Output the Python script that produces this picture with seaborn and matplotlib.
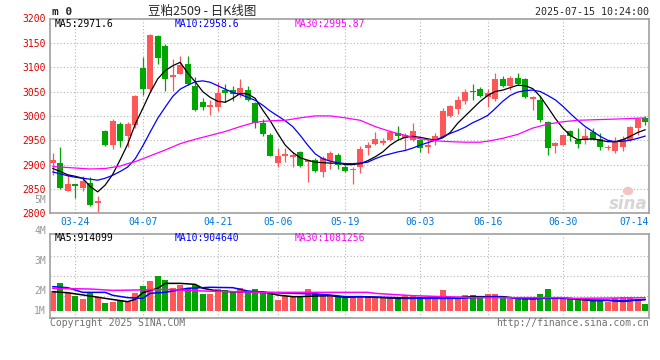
import matplotlib
matplotlib.use("Agg")
import matplotlib.pyplot as plt
from matplotlib.patches import Ellipse
import seaborn as sns
import numpy as np
import pandas as pd

# daily candles of 豆粕2509 (80 trading days)
opens = [2904, 2904, 2846, 2860, 2852, 2863, 2822, 2970, 2940, 2984,
         2959, 2981, 3099, 3056, 3164, 3143, 3080, 3087, 3106, 3061,
         3028, 3019, 3019, 3054, 3053, 3043, 3054, 3026, 2985, 2961,
         2903, 2918, 2915, 2926, 2905, 2909, 2884, 2908, 2920, 2896,
         2888, 2895, 2935, 2942, 2945, 2950, 2965, 2955, 2951, 2950,
         2936, 2950, 2957, 2999, 3014, 3030, 3051, 3055, 3038, 3034,
         3075, 3061, 3078, 3075, 3034, 3032, 2988, 2938, 2941, 2968,
         2950, 2950, 2966, 2953, 2934, 2928, 2936, 2950, 2976, 2996]
highs = [2923, 2936, 2880, 2861, 2877, 2875, 2836, 2971, 2994, 2987,
         2988, 3042, 3121, 3169, 3166, 3147, 3116, 3123, 3124, 3080,
         3036, 3032, 3070, 3066, 3061, 3075, 3061, 3029, 2993, 2964,
         2934, 2934, 2925, 2927, 2912, 2913, 2918, 2927, 2924, 2899,
         2896, 2938, 2947, 2967, 2955, 2972, 2979, 2965, 2986, 2953,
         2953, 2965, 3017, 3022, 3040, 3056, 3066, 3060, 3055, 3088,
         3081, 3081, 3088, 3078, 3041, 3040, 2990, 2947, 2962, 2971,
         2976, 2976, 2976, 2964, 2940, 2957, 2958, 2980, 2995, 2999]
lows = [2878, 2850, 2845, 2832, 2846, 2814, 2803, 2939, 2933, 2936,
        2936, 2976, 3042, 3049, 3107, 3051, 3051, 3086, 3063, 3011,
        3012, 3002, 3010, 3029, 3031, 3039, 3031, 2975, 2959, 2917,
        2896, 2905, 2896, 2896, 2864, 2884, 2875, 2890, 2890, 2884,
        2861, 2883, 2919, 2940, 2940, 2949, 2950, 2929, 2949, 2926,
        2924, 2940, 2956, 2998, 3003, 3025, 3032, 3038, 3018, 3031,
        3060, 3053, 3063, 3036, 3012, 2988, 2919, 2924, 2940, 2948,
        2934, 2943, 2950, 2929, 2930, 2924, 2928, 2948, 2960, 2981]
closes = [2909, 2852, 2860, 2857, 2867, 2817, 2825, 2940, 2990, 2949,
          2983, 3040, 3056, 3166, 3118, 3075, 3084, 3104, 3065, 3012,
          3019, 3022, 3046, 3047, 3045, 3058, 3032, 2985, 2963, 2918,
          2917, 2921, 2920, 2898, 2909, 2886, 2913, 2924, 2900, 2886,
          2890, 2933, 2940, 2952, 2949, 2967, 2958, 2960, 2968, 2934,
          2941, 2958, 3010, 3020, 3032, 3049, 3050, 3040, 3047, 3075,
          3061, 3078, 3065, 3038, 3039, 2991, 2934, 2945, 2960, 2958,
          2943, 2958, 2951, 2936, 2936, 2947, 2953, 2977, 2993, 2988]
# volume in millions of lots
volumes = [1.63, 2.28, 1.46, 1.22, 0.95, 1.54, 1.14, 0.65, 0.73, 0.87,
           0.73, 1.46, 2.01, 2.44, 2.85, 2.49, 1.87, 2.11, 1.82, 2.09,
           1.36, 1.36, 1.76, 1.68, 1.63, 1.87, 1.60, 1.76, 1.41, 1.49,
           0.89, 1.19, 1.19, 1.19, 1.76, 1.41, 1.22, 1.22, 1.14, 1.00,
           1.14, 1.22, 1.22, 1.14, 1.14, 1.14, 0.95, 1.27, 1.27, 1.14,
           1.00, 1.00, 1.68, 1.14, 1.14, 1.27, 1.27, 1.14, 1.36, 1.36,
           1.19, 0.95, 0.95, 1.00, 1.00, 1.36, 1.76, 1.06, 0.95, 1.00,
           1.00, 0.95, 0.81, 0.81, 0.73, 1.00, 1.14, 1.08, 0.95, 0.54]

# moving averages as drawn on the chart
ma5 = [2892, 2886, 2879, 2876, 2872, 2855, 2844, 2858, 2880, 2910,
       2942, 2983, 3015, 3048, 3076, 3093, 3103, 3110, 3088, 3070,
       3050, 3038, 3030, 3028, 3036, 3046, 3045, 3036, 3012, 2990,
       2964, 2940, 2925, 2914, 2909, 2905, 2904, 2903, 2903, 2900,
       2900, 2902, 2908, 2916, 2926, 2940, 2950, 2956, 2958, 2956,
       2953, 2950, 2955, 2966, 2985, 3000, 3015, 3030, 3042, 3050,
       3053, 3058, 3063, 3062, 3056, 3040, 3018, 2995, 2975, 2960,
       2951, 2952, 2953, 2950, 2947, 2947, 2951, 2958, 2966, 2971.6]
ma10 = [2885, 2881, 2877, 2874, 2872, 2870, 2868, 2872, 2878, 2886,
        2895, 2912, 2938, 2967, 2995, 3018, 3040, 3055, 3063, 3070,
        3072, 3069, 3062, 3055, 3048, 3044, 3038, 3032, 3022, 3010,
        3000, 2990, 2978, 2960, 2940, 2922, 2912, 2907, 2904, 2902,
        2902, 2903, 2905, 2912, 2918, 2922, 2926, 2929, 2934, 2940,
        2945, 2950, 2957, 2964, 2970, 2977, 2986, 2993, 3001, 3015,
        3030, 3042, 3049, 3052, 3053, 3050, 3042, 3033, 3020, 3005,
        2991, 2978, 2968, 2958, 2950, 2947, 2948, 2950, 2954, 2958.6]
ma30_day = [0, 3, 5, 7, 9, 10, 11, 12, 13, 15, 17, 19, 21, 23, 25, 27, 29,
            31, 33, 35, 37, 39, 41, 43, 45, 47, 49, 51, 53, 55, 57, 58, 60,
            62, 64, 66, 68, 70, 72, 74, 76, 79]
ma30 = [2896, 2893, 2891, 2892, 2897, 2902, 2906, 2912, 2918, 2930, 2943,
        2952, 2960, 2968, 2978, 2987, 2990, 2991, 2996, 3000, 3000, 2996,
        2991, 2978, 2968, 2960, 2953, 2949, 2947, 2946, 2946, 2948, 2954,
        2962, 2975, 2983, 2988, 2991, 2992, 2993, 2994, 2995.87]

vol_ma5_day = [0, 2, 5, 7, 10, 11, 12, 14, 15, 17, 19, 20, 22, 24, 28, 30,
               32, 33, 35, 37, 39, 41, 44, 46, 48, 52, 54, 56, 60, 62, 64,
               66, 69, 72, 74, 76, 79]
vol_ma5 = [1.54, 1.46, 1.19, 1.00, 0.73, 0.92, 1.46, 1.82, 2.22, 2.22,
           2.14, 1.82, 1.60, 1.54, 1.54, 1.27, 1.14, 1.14, 1.19, 1.22,
           1.08, 1.14, 1.06, 1.00, 1.00, 1.08, 1.06, 1.14, 1.14, 1.00,
           0.95, 1.06, 1.00, 0.81, 0.84, 0.76, 0.91]
vol_ma10_day = [0, 2, 4, 7, 8, 10, 12, 13, 15, 18, 21, 24, 26, 28, 32, 35,
                37, 39, 41, 46, 49, 54, 59, 62, 66, 68, 72, 76, 79]
vol_ma10 = [1.95, 1.87, 1.49, 1.49, 1.25, 1.06, 1.00, 1.41, 1.49, 1.82,
            1.90, 1.87, 1.60, 1.49, 1.41, 1.36, 1.27, 1.14, 1.14, 1.06,
            1.00, 1.00, 1.14, 1.00, 1.00, 1.00, 0.87, 0.81, 0.90]
vol_ma30_day = [0, 5, 8, 11, 15, 20, 28, 37, 42, 43, 45, 48, 52, 56, 60,
                68, 69, 79]
vol_ma30 = [1.82, 1.76, 1.65, 1.68, 1.73, 1.60, 1.49, 1.49, 1.49, 1.41,
            1.33, 1.22, 1.14, 1.06, 1.06, 1.06, 1.00, 1.05]

date_ticks = [3, 12, 22, 30, 39, 49, 58, 68]
date_labels = ["03-24", "04-07", "04-21", "05-06", "05-19", "06-03",
               "06-16", "06-30"]
last_label = "07-14"
price_ticks = [2800, 2850, 2900, 2950, 3000, 3050, 3100, 3150, 3200]
vol_labels = ["5M", "4M", "3M", "2M", "1M"]

title = "豆粕2509 - 日K线图"
stamp = "2025-07-15 10:24:00"
price_ma_text = ["MA5:2971.6", "MA10:2958.6", "MA30:2995.87"]
vol_ma_text = ["MA5:914099", "MA10:904640", "MA30:1081256"]

RED = "#ff5757"
GREEN = "#00a600"
GRID = "#b4b4b4"
FRAME = "#a0a0a0"
MA_COLORS = ["black", "#0000ff", "#ff00ff"]

sns.set_style("white")
plt.rcParams["font.family"] = ["DejaVu Sans Mono", "Noto Sans CJK SC"]
plt.rcParams["font.size"] = 7

W, H = 660, 360
fig = plt.figure(figsize=(6.6, 3.6), dpi=100)


def fx(px):
    return px / W


def fy(py):
    return 1 - py / H


ax = fig.add_axes([fx(50), fy(213.3), fx(599), (213.3 - 18.5) / H])
axv = fig.add_axes([fx(50), fy(318.3), fx(599), 84 / H])

df = pd.DataFrame({"open": opens, "high": highs, "low": lows,
                   "close": closes, "vol": volumes})
df["day"] = np.arange(len(df))
colors = np.where(df["close"] >= df["open"], RED, GREEN)

# grid
for d in date_ticks:
    for a in (ax, axv):
        a.axvline(d, color=GRID, ls=(0, (1, 2)), lw=0.8, zorder=1)
for p in price_ticks[1:-1]:
    ax.axhline(p, color=GRID, ls=(0, (1, 2)), lw=0.8, zorder=1)
for f in [0.745, 0.507, 0.269]:
    axv.plot([0, 1], [f, f], transform=axv.transAxes, color=GRID,
             ls=(0, (1, 2)), lw=0.8, zorder=1)

# candles
body_lo = np.minimum(df["open"], df["close"])
body_h = np.maximum((df["close"] - df["open"]).abs(), 1.6)
ax.vlines(df["day"], df["low"], df["high"], colors=colors, lw=0.9, zorder=2)
ax.bar(df["day"], body_h, bottom=body_lo, width=0.76, color=colors,
       linewidth=0, zorder=3)

days = np.arange(len(df))
sns.lineplot(x=days, y=ma5, ax=ax, color=MA_COLORS[0], lw=0.9, zorder=4)
sns.lineplot(x=days, y=ma10, ax=ax, color=MA_COLORS[1], lw=0.9, zorder=4)
sns.lineplot(x=ma30_day, y=ma30, ax=ax, color=MA_COLORS[2], lw=0.9,
             zorder=4)

# volume
axv.bar(df["day"], df["vol"], width=0.76, color=colors, linewidth=0,
        zorder=2)
sns.lineplot(x=vol_ma5_day, y=vol_ma5, ax=axv, color=MA_COLORS[0], lw=1.1,
             zorder=4)
sns.lineplot(x=vol_ma10_day, y=vol_ma10, ax=axv, color=MA_COLORS[1],
             lw=1.1, zorder=4)
sns.lineplot(x=vol_ma30_day, y=vol_ma30, ax=axv, color=MA_COLORS[2],
             lw=1.1, zorder=4)

for a in (ax, axv):
    a.set_xlim(-0.36, 79.5)
    for s in a.spines.values():
        s.set_color(FRAME)
        s.set_linewidth(1.2)
    a.tick_params(length=0)
    a.set_xlabel("")
    a.set_ylabel("")

ax.set_ylim(2800, 3200)
ax.set_yticks(price_ticks)
ax.set_yticklabels([str(p) for p in price_ticks], color="#e00000")
ax.tick_params(axis="y", pad=3)
ax.set_xticks(date_ticks)
ax.set_xticklabels(date_labels, color="#0078d7")
ax.tick_params(axis="x", pad=3)
ax.text(1.0, -0.02, last_label, transform=ax.transAxes, ha="right",
        va="top", color="#0078d7", fontsize=7)

axv.set_ylim(-0.62, 6.21)
axv.set_xticks([])
axv.set_yticks([])
for lab, f in zip(vol_labels, [1.408, 1.043, 0.686, 0.329, 0.09]):
    axv.text(-0.007, f, lab, transform=axv.transAxes, ha="right",
             va="center", color="#999999", fontsize=7, clip_on=False)

# header texts
fig.text(fx(52), fy(12), "m 0", fontsize=8, weight="bold", va="center")
fig.text(fx(202), fy(11), title, fontsize=9, ha="center", va="center",
         family=["Noto Sans CJK SC", "DejaVu Sans"])
fig.text(fx(649), fy(12), stamp, fontsize=7.2, ha="right", va="center")
for txt, x, c in zip(price_ma_text, [55, 175, 295], MA_COLORS):
    fig.text(fx(x), fy(24), txt, color=c, va="center")
for txt, x, c in zip(vol_ma_text, [55, 175, 295], MA_COLORS):
    fig.text(fx(x), fy(238), txt, color=c, va="center")

fig.text(fx(50), fy(323), "Copyright 2025 SINA.COM", color="#707070",
         va="center")
fig.text(fx(649), fy(323), "http://finance.sina.com.cn", color="#707070",
         va="center", ha="right")

# sina watermark
fig.text(fx(648), fy(204), "sina", fontsize=12, style="italic",
         weight="bold", color="#d6d6d6", ha="right", va="center",
         family="DejaVu Sans")
fig.add_artist(Ellipse((fx(628), fy(191)), fx(9), 7 / H,
                       transform=fig.transFigure, color="#f2c4c4"))

fig.savefig("out.png", dpi=100, facecolor="white")
